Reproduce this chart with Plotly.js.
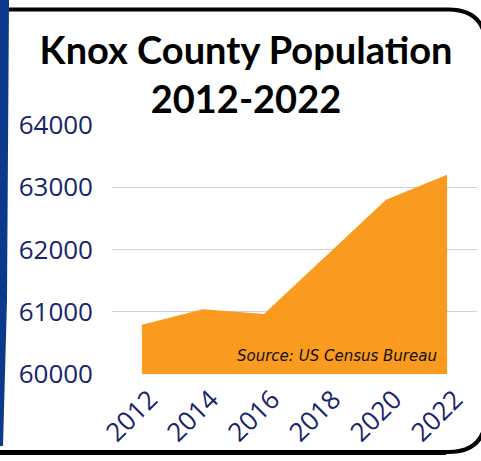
<!DOCTYPE html>
<html>
<head>
<meta charset="utf-8">
<script src="https://cdn.plot.ly/plotly-3.0.1.min.js"></script>
<style>html,body{margin:0;padding:0;background:#fff;}#chart{width:481px;height:461px;}</style>
</head>
<body>
<div id="chart"></div>
<script>
var years = [2012, 2014, 2016, 2018, 2020, 2022];
var population = [60790, 61040, 60965, 61890, 62800, 63200];
var yTicks = [60000, 61000, 62000, 63000, 64000];

var W = 481, H = 461;
var M = {l: 112, r: 4, t: 125, b: 87, pad: 0};
var pw = W - M.l - M.r, ph = H - M.t - M.b;
function X(px) { return ((px - M.l) / pw).toFixed(4); }
function Y(py) { return ((H - M.b - py) / ph).toFixed(4); }

var navy = '#16246b';

var trace = {
  x: years,
  y: population,
  type: 'scatter',
  mode: 'lines',
  fill: 'tozeroy',
  fillcolor: '#FA9A1E',
  line: {color: '#FA9A1E', width: 0},
  hoverinfo: 'skip'
};

var framePath = 'M ' + X(9) + ' ' + Y(9.5) + ' L ' + X(448) + ' ' + Y(9.5) +
  ' Q ' + X(486) + ' ' + Y(9.5) + ' ' + X(486) + ' ' + Y(48) +
  ' L ' + X(486) + ' ' + Y(414) +
  ' Q ' + X(486) + ' ' + Y(452) + ' ' + X(448) + ' ' + Y(452) +
  ' L ' + X(-2) + ' ' + Y(452);

var stripePath = 'M ' + X(0) + ' ' + Y(0) + ' L ' + X(9) + ' ' + Y(0) +
  ' L ' + X(7) + ' ' + Y(300) + ' L ' + X(3) + ' ' + Y(446) + ' L ' + X(0) + ' ' + Y(446) + ' Z';

var layout = {
  width: W, height: H,
  margin: M,
  paper_bgcolor: '#ffffff',
  plot_bgcolor: '#ffffff',
  showlegend: false,
  title: {
    text: '<b>Knox County Population<br>2012-2022</b>',
    font: {family: 'Lato, sans-serif', size: 38, color: '#000000'},
    x: 246 / W, xref: 'container', xanchor: 'center',
    y: 1 - 64 / H, yref: 'container', yanchor: 'top'
  },
  xaxis: {
    range: [2011.02, 2022.98],
    tickvals: years,
    ticktext: years.map(String),
    tickangle: -45,
    showgrid: false,
    zeroline: false,
    showline: false,
    ticks: '',
    ticklabelshift: 8,
    ticklabelstandoff: 4,
    tickfont: {family: 'Open Sans, sans-serif', size: 26, color: navy},
    fixedrange: true
  },
  yaxis: {
    range: [60000, 64000],
    tickvals: yTicks,
    ticktext: yTicks.map(String),
    showgrid: true,
    gridcolor: '#d0d0ea',
    gridwidth: 1,
    zeroline: false,
    showline: false,
    ticks: '',
    ticklabelstandoff: 18,
    tickfont: {family: 'Open Sans, sans-serif', size: 26, color: navy},
    fixedrange: true
  },
  annotations: [{
    text: '<i>Source: US Census Bureau</i>',
    xref: 'paper', yref: 'paper',
    x: X(235), y: Y(356), xanchor: 'left', yanchor: 'middle',
    showarrow: false,
    font: {family: 'DejaVu Sans, sans-serif', size: 15, color: '#111111'}
  }],
  shapes: [
    {type: 'path', xref: 'paper', yref: 'paper', path: stripePath, fillcolor: '#0b3a8c', line: {width: 0}, layer: 'above'},
    {type: 'path', xref: 'paper', yref: 'paper', path: framePath, line: {color: '#000000', width: 4}, layer: 'above'},
    {type: 'line', xref: 'paper', yref: 'paper', x0: X(0), x1: X(446), y0: Y(453), y1: Y(453), line: {color: '#000000', width: 4}, layer: 'above'}
  ]
};

Plotly.newPlot('chart', [trace], layout, {displayModeBar: false, staticPlot: true});
</script>
</body>
</html>
